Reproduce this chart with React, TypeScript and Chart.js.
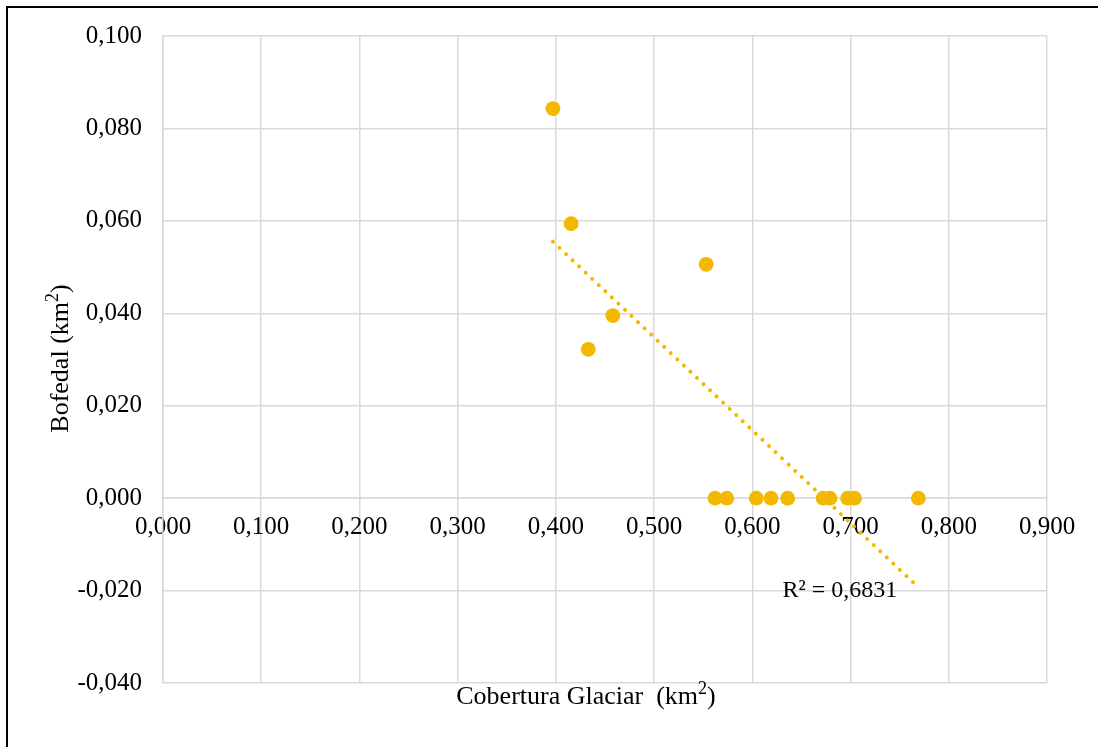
import { useEffect, useRef } from "react";
import { Chart, registerables } from "chart.js";

Chart.register(...registerables);

// Glacier cover vs. wetland (bofedal) area, km²
const coberturaGlaciar = [
  0.397, 0.4155, 0.433, 0.458, 0.553, 0.562, 0.574, 0.604, 0.619, 0.636, 0.672,
  0.679, 0.697, 0.704, 0.769,
];
const bofedal = [
  0.0843, 0.0594, 0.0322, 0.0395, 0.0506, 0, 0, 0, 0, 0, 0, 0, 0, 0, 0,
];
const r2Label = "R² = 0,6831";
const xTitle = ["Cobertura Glaciar  (km", "2", ")"];
const yTitle = ["Bofedal (km", "2", ")"];

const GOLD = "#F5B800";
const GRID = "#d9d9d9";
const FONT = "Liberation Serif";

// Least-squares line through the points, drawn across the data's x range
function linearFit(xs: number[], ys: number[]) {
  const n = xs.length;
  const mx = xs.reduce((s, v) => s + v, 0) / n;
  const my = ys.reduce((s, v) => s + v, 0) / n;
  let sxy = 0;
  let sxx = 0;
  for (let i = 0; i < n; i++) {
    sxy += (xs[i] - mx) * (ys[i] - my);
    sxx += (xs[i] - mx) * (xs[i] - mx);
  }
  const slope = sxy / sxx;
  const intercept = my - slope * mx;
  const x0 = Math.min(...xs);
  const x1 = Math.max(...xs);
  return [
    { x: x0, y: intercept + slope * x0 },
    { x: x1, y: intercept + slope * x1 },
  ];
}

const fmt = (v: number) =>
  (Math.abs(v) < 1e-9 ? 0 : v).toFixed(3).replace(".", ",");

function drawSupText(
  ctx: CanvasRenderingContext2D,
  parts: string[],
  cx: number,
  baseline: number,
  size: number
) {
  const main = `${size}px "${FONT}"`;
  const sup = `${Math.round(size * 0.68)}px "${FONT}"`;
  ctx.font = main;
  const w0 = ctx.measureText(parts[0]).width;
  const w2 = ctx.measureText(parts[2]).width;
  ctx.font = sup;
  const w1 = ctx.measureText(parts[1]).width;
  let x = cx - (w0 + w1 + w2) / 2;
  ctx.textAlign = "left";
  ctx.textBaseline = "alphabetic";
  ctx.font = main;
  ctx.fillText(parts[0], x, baseline);
  x += w0;
  ctx.font = sup;
  ctx.fillText(parts[1], x, baseline - size * 0.38);
  x += w1;
  ctx.font = main;
  ctx.fillText(parts[2], x, baseline);
}

const annotations = {
  id: "annotations",
  afterDraw(chart: any) {
    const { ctx, chartArea: a, scales } = chart;
    ctx.save();
    ctx.fillStyle = "#000";
    // x-axis title
    drawSupText(ctx, xTitle, (a.left + a.right) / 2 - 19, 704, 26);
    // y-axis title, rotated
    ctx.save();
    ctx.translate(68, (a.top + a.bottom) / 2 - 1);
    ctx.rotate(-Math.PI / 2);
    drawSupText(ctx, yTitle, 0, 0, 26);
    ctx.restore();
    // R² next to the end of the trend line
    const end = chart.data.datasets[1].data[1];
    const ex = scales.x.getPixelForValue(end.x);
    const ey = scales.y.getPixelForValue(end.y);
    ctx.font = `24px "${FONT}"`;
    ctx.textAlign = "right";
    ctx.textBaseline = "middle";
    ctx.fillText(r2Label, ex - 21, ey + 3);
    ctx.restore();
  },
};

export default function App() {
  const ref = useRef<HTMLCanvasElement | null>(null);

  useEffect(() => {
    if (!ref.current) return;
    const points = coberturaGlaciar.map((x, i) => ({ x, y: bofedal[i] }));
    const trend = linearFit(coberturaGlaciar, bofedal);
    const chart = new Chart(ref.current, {
      type: "scatter",
      data: {
        datasets: [
          {
            label: "Bofedal",
            data: points,
            backgroundColor: GOLD,
            borderColor: GOLD,
            pointRadius: 7.4,
            pointBorderWidth: 0,
            order: 1,
          },
          {
            label: "Lineal",
            data: trend,
            showLine: true,
            borderColor: GOLD,
            borderWidth: 4,
            borderDash: [0.01, 9],
            borderCapStyle: "round",
            pointRadius: 0,
            order: 2,
          } as any,
        ],
      },
      options: {
        animation: false,
        responsive: false,
        layout: { padding: { left: 0, top: 35, right: 51, bottom: 64 } },
        plugins: {
          legend: { display: false },
          tooltip: { enabled: false },
        },
        scales: {
          x: {
            type: "linear",
            min: 0,
            max: 0.9,
            position: { y: 0 } as any,
            grid: { color: GRID, lineWidth: 1.5, drawTicks: false },
            border: { color: GRID, width: 1.5 },
            ticks: {
              stepSize: 0.1,
              padding: 14,
              color: "#000",
              font: { family: FONT, size: 25 },
              callback: (v: any) => fmt(Number(v)),
              maxRotation: 0,
            },
          },
          y: {
            type: "linear",
            min: -0.04,
            max: 0.1,
            position: "left",
            afterFit: (s: any) => {
              s.width = 163;
            },
            grid: { color: GRID, lineWidth: 1.5, drawTicks: false },
            border: { color: GRID, width: 1.5 },
            ticks: {
              stepSize: 0.02,
              padding: 21,
              color: "#000",
              font: { family: FONT, size: 25 },
              callback: (v: any) => fmt(Number(v)),
            },
          },
        },
      },
      plugins: [annotations],
    });
    return () => chart.destroy();
  }, []);

  return (
    <div
      style={{
        position: "absolute",
        left: 0,
        top: 0,
        width: 1098,
        height: 747,
        background: "#fff",
        overflow: "hidden",
      }}
    >
      <canvas
        ref={ref}
        width={1098}
        height={747}
        style={{ display: "block", position: "absolute", left: 0, top: 0 }}
      />
      <div
        style={{
          position: "absolute",
          left: 6,
          top: 6,
          width: 1092,
          height: 741,
          borderLeft: "2px solid #000",
          borderTop: "2px solid #000",
          boxSizing: "border-box",
          pointerEvents: "none",
        }}
      />
    </div>
  );
}
